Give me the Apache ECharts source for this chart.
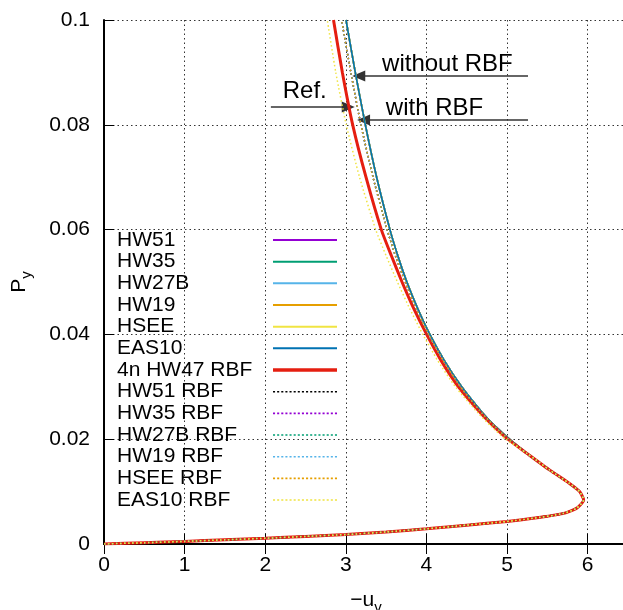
<!doctype html>
<html>
<head>
<meta charset="utf-8">
<title>Py - uv</title>
<script src="https://cdn.jsdelivr.net/npm/echarts@6/dist/echarts.min.js"></script>
</head>
<body style="margin:0;padding:0">
<div id="tb" style="width:623px;height:610px;"></div>
<script>
// lower branch, common to every curve (origin, round the limit point, up to Py = 0.0173)
var lowerX = [0, 0.5, 1, 1.5, 2, 2.5, 3, 3.5, 4, 4.5, 5, 5.32, 5.69, 5.86, 5.95, 5.9, 5.77, 5.53, 5.246];
var lowerY = [0, 0.00025, 0.0005, 0.0008, 0.0011, 0.00145, 0.0018, 0.0023, 0.0029, 0.0036, 0.0043, 0.0049, 0.0058, 0.0068, 0.0084, 0.0100, 0.0116, 0.0141, 0.0173];

// upper branches, all read at the same Py levels
var upperY   = [0.02, 0.0225, 0.025, 0.03, 0.035, 0.04, 0.045, 0.05, 0.055, 0.06, 0.07, 0.08, 0.09, 0.1];
var withoutX = [5.03, 4.852, 4.697, 4.437, 4.222, 4.042, 3.89, 3.757, 3.645, 3.547, 3.382, 3.242, 3.117, 3.002];
var refX     = [5.01, 4.832, 4.672, 4.397, 4.182, 4.002, 3.84, 3.697, 3.565, 3.44, 3.25, 3.085, 2.957, 2.847];
var withX    = [5.02, 4.842, 4.687, 4.422, 4.207, 4.027, 3.87, 3.737, 3.615, 3.512, 3.337, 3.187, 3.062, 2.947];
var easRbfX  = [4.98, 4.80, 4.64, 4.36, 4.14, 3.955, 3.79, 3.64, 3.50, 3.37, 3.17, 3.005, 2.875, 2.77];

var names = ['HW51', 'HW35', 'HW27B', 'HW19', 'HSEE', 'EAS10', '4n HW47 RBF',
             'HW51 RBF', 'HW35 RBF', 'HW27B RBF', 'HW19 RBF', 'HSEE RBF', 'EAS10 RBF'];
var colors = ['#9400d3', '#009e73', '#56b4e9', '#e69f00', '#f0e442', '#0072b2', '#e51e10',
              '#000000', '#9400d3', '#009e73', '#56b4e9', '#e69f00', '#f0e442'];
// which upper branch each series follows
var branch = ['without', 'without', 'without', 'without', 'without', 'without', 'ref',
              'with', 'with', 'with', 'with', 'with', 'easRbf'];

var xTicks = [0, 1, 2, 3, 4, 5, 6];
var yTicks = [0, 0.02, 0.04, 0.06, 0.08, 0.1];

// arrows and their captions, in data units
var arrows = [
    {from: [2.07, 0.0834], to: [3.03, 0.0834]},
    {from: [5.26, 0.0893], to: [3.16, 0.0893]},
    {from: [5.26, 0.0809], to: [3.22, 0.0809]}
];
var notes = [
    {text: 'Ref.', at: [2.49, 0.08645]},
    {text: 'without RBF', at: [4.26, 0.0915]},
    {text: 'with RBF', at: [4.1, 0.08315]}
];

var upper = {without: withoutX, ref: refX, 'with': withX, easRbf: easRbfX};

function curve(b) {
    var pts = [];
    for (var i = 0; i < lowerX.length; i++) pts.push([lowerX[i], lowerY[i]]);
    var ux = upper[b];
    for (var j = 0; j < upperY.length; j++) pts.push([ux[j], upperY[j]]);
    return pts;
}

// legend samples: a solid bar or a row of dots
var solidIcon = 'path://M0,0H64V2H0Z';
var thickIcon = 'path://M0,0H64V3.5H0Z';
var dotIcon = 'path://';
for (var k = 0; k < 16; k++) dotIcon += 'M' + (k * 4) + ',0h2v1.5h-2z';

var font = 'Liberation Sans, Arial, sans-serif';

var series = names.map(function (n, i) {
    var dotted = i >= 7;
    return {
        name: n,
        type: 'line',
        data: curve(branch[i]),
        showSymbol: false,
        symbol: 'none',
        smooth: 0.2,
        z: 2 + i,
        lineStyle: {
            color: colors[i],
            width: i === 6 ? 3 : (dotted ? 1.5 : 1.6),
            type: dotted ? [1.5, 2.5] : 'solid'
        },
        itemStyle: {color: colors[i]}
    };
});

// arrows
series.push({
    name: 'arrows',
    type: 'line',
    data: [],
    silent: true,
    markLine: {
        silent: true,
        symbol: ['none', 'triangle'],
        symbolSize: [11, 13],
        label: {show: false},
        emphasis: {disabled: true},
        lineStyle: {color: '#333', width: 1.5, type: 'solid'},
        data: arrows.map(function (a) {
            return [{coord: a.from}, {coord: a.to, itemStyle: {color: '#000'}}];
        })
    }
});

var bt = document.getElementById('tb');
var chart = echarts.init(bt);

chart.setOption({
    animation: false,
    backgroundColor: '#fff',
    grid: {left: 104, right: -5, top: 20, bottom: 66, containLabel: false, outerBoundsMode: 'none'},
    legend: {
        data: names.map(function (n, i) {
            return {name: n, icon: i === 6 ? thickIcon : (i >= 7 ? dotIcon : solidIcon)};
        }),
        orient: 'vertical',
        left: 117,
        top: 229.5,
        padding: 0,
        align: 'right',
        itemWidth: 64,
        itemHeight: 10,
        itemGap: 0.67,
        selectedMode: false,
        formatter: function (name) { return '{n|' + name + '}'; },
        textStyle: {
            color: '#000',
            rich: {n: {width: 151, align: 'left', fontSize: 21, lineHeight: 21, fontFamily: font, color: '#000'}}
        }
    },
    xAxis: [{
        type: 'value',
        min: 0,
        max: 6.5,
        interval: 1,
        name: '{u|\u2212u}{s|v}',
        nameLocation: 'middle',
        nameGap: 41,
        nameTextStyle: {
            rich: {
                u: {fontSize: 21, fontFamily: font, color: '#000', lineHeight: 30, verticalAlign: 'middle'},
                s: {fontSize: 15, fontFamily: font, color: '#000', lineHeight: 15, verticalAlign: 'bottom'}
            }
        },
        axisLine: {show: true, onZero: false, lineStyle: {color: '#000', width: 2}},
        axisTick: {show: true, inside: true, length: 10, lineStyle: {color: '#000', width: 1}},
        axisLabel: {
            margin: 11, fontSize: 21, fontFamily: font, color: '#000', showMaxLabel: false,
            formatter: function (v) { return xTicks.indexOf(v) >= 0 ? String(v) : ''; }
        },
        splitLine: {show: true, lineStyle: {color: '#333', width: 1, type: [1.5, 3]}}
    }, {
        type: 'value',
        position: 'top',
        min: 0,
        max: 6.5,
        interval: 1,
        axisLine: {show: true, lineStyle: {color: '#000', width: 2}},
        axisTick: {show: true, inside: true, length: 10, lineStyle: {color: '#000', width: 1}},
        axisLabel: {show: false},
        splitLine: {show: false}
    }],
    yAxis: {
        type: 'value',
        min: 0,
        max: 0.1,
        interval: 0.02,
        name: '{p|P}{s|y}',
        nameLocation: 'middle',
        nameRotate: 90,
        nameGap: 70,
        nameTextStyle: {
            rich: {
                p: {fontSize: 21, fontFamily: font, color: '#000', lineHeight: 30, verticalAlign: 'middle'},
                s: {fontSize: 15, fontFamily: font, color: '#000', lineHeight: 15, verticalAlign: 'bottom'}
            }
        },
        axisLine: {show: true, onZero: false, lineStyle: {color: '#000', width: 2}},
        axisTick: {show: true, inside: true, length: 10, lineStyle: {color: '#000', width: 1}},
        axisLabel: {
            margin: 14, fontSize: 21, fontFamily: font, color: '#000',
            formatter: function (v) {
                for (var k = 0; k < yTicks.length; k++) {
                    if (Math.abs(yTicks[k] - v) < 1e-9) return String(yTicks[k]);
                }
                return '';
            }
        },
        splitLine: {show: true, lineStyle: {color: '#333', width: 1, type: [1.5, 3]}}
    },
    series: series
});

// captions for the arrows, placed through the axes
chart.setOption({
    graphic: notes.map(function (n) {
        var p = chart.convertToPixel({gridIndex: 0}, n.at);
        return {
            type: 'text',
            x: p[0],
            y: p[1],
            silent: true,
            style: {
                text: n.text,
                fill: '#000',
                font: '24px ' + font,
                align: 'center',
                verticalAlign: 'middle'
            }
        };
    })
});
</script>
</body>
</html>
